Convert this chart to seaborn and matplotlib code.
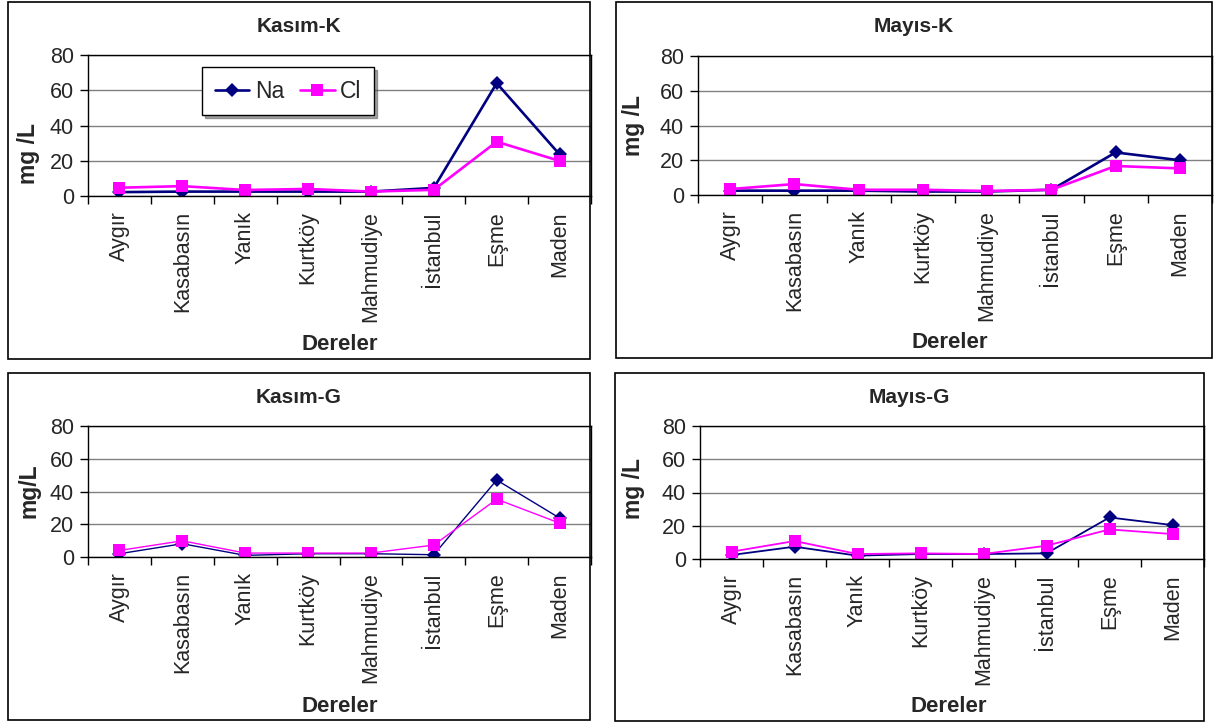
import numpy as np
import pandas as pd
import seaborn as sns
import matplotlib.pyplot as plt
from matplotlib.patches import Rectangle
from matplotlib.ticker import FixedLocator

sns.set_style("white")
plt.rcParams['font.family'] = ['Liberation Sans', 'DejaVu Sans']

# Veri
dereler = ["Aygır", "Kasabasın", "Yanık", "Kurtköy", "Mahmudiye", "İstanbul", "Eşme", "Maden"]

kasim_k_na = [2.2, 2.5, 2.5, 2.5, 2.5, 4.6, 64, 23.6]
kasim_k_cl = [4.7, 5.6, 3.4, 4.0, 2.5, 3.5, 30.8, 19.9]

mayis_k_na = [2.5, 2.5, 2.5, 2.0, 2.0, 3.0, 24.5, 20.0]
mayis_k_cl = [3.4, 6.3, 3.0, 3.0, 2.3, 3.0, 16.7, 15.3]

kasim_g_na = [2.0, 8.1, 1.0, 2.0, 2.0, 1.4, 47.0, 23.8]
kasim_g_cl = [4.0, 9.9, 2.4, 2.4, 2.4, 7.3, 35.3, 20.7]

mayis_g_na = [2.4, 7.4, 2.0, 3.0, 3.0, 3.4, 25.0, 20.4]
mayis_g_cl = [4.4, 10.8, 3.0, 3.4, 3.0, 8.0, 17.8, 15.0]

W, H = 1222, 722
fig = plt.figure(figsize=(W / 100, H / 100), dpi=100)
fig.patch.set_facecolor("white")


def px_rect(x0, y0, x1, y1):
    return [x0 / W, 1 - y1 / H, (x1 - x0) / W, (y1 - y0) / H]


def panel(box, plot, title, na, cl, ylabel, ylab_xy, xlab_xy, lw, legend=False):
    # cerceve
    bx = px_rect(*box)
    fig.add_artist(Rectangle((bx[0], bx[1]), bx[2], bx[3], transform=fig.transFigure,
                             fill=False, edgecolor="black", linewidth=1.2))
    fig.text(bx[0] + bx[2] / 2, 1 - (box[1] + 25) / H, title, ha="center", va="center",
             fontsize=15, fontweight="bold")

    ax = fig.add_axes(px_rect(*plot))
    df = pd.DataFrame({"Dere": dereler, "Na": na, "Cl": cl})
    df["x"] = np.arange(len(dereler))
    long = df.melt(id_vars=["Dere", "x"], value_vars=["Na", "Cl"], var_name="Iyon", value_name="Deger")

    sns.lineplot(data=long, x="x", y="Deger", hue="Iyon", style="Iyon", hue_order=["Na", "Cl"],
                 palette={"Na": "#000080", "Cl": "#FF00FF"}, markers={"Na": "D", "Cl": "s"},
                 dashes=False, linewidth=lw, markersize=9, markeredgewidth=0,
                 legend=legend, ax=ax)
    for line in ax.get_lines():
        if line.get_marker() == "D":
            line.set_markersize(7.5)

    ax.set_xlim(-0.5, len(dereler) - 0.5)
    ax.set_ylim(0, 80)
    ax.set_yticks([0, 20, 40, 60, 80])
    ax.set_xticks(np.arange(len(dereler)))
    ax.set_xticklabels(dereler, rotation=90)
    ax.xaxis.set_minor_locator(FixedLocator(np.arange(-0.5, len(dereler), 1.0)))
    ax.tick_params(axis="x", which="major", length=0, pad=11, labelsize=15.5)
    ax.tick_params(axis="x", which="minor", length=6, width=1, color="black", direction="out", bottom=True)
    ax.tick_params(axis="y", length=6, width=1, color="black", direction="out", left=True, labelsize=15.5, pad=4)
    ax.grid(axis="y", color="#808080", linewidth=1)
    ax.grid(axis="x", visible=False)
    for s in ax.spines.values():
        s.set_color("black")
        s.set_linewidth(1)
    ax.set_xlabel("Dereler", fontsize=16, fontweight="bold")
    ax.set_ylabel(ylabel, fontsize=16.5, fontweight="bold")
    ax.yaxis.set_label_coords(*ylab_xy)
    ax.xaxis.set_label_coords(*xlab_xy)

    if legend:
        handles, labels = ax.get_legend_handles_labels()
        ax.legend(handles, labels, ncol=2, loc="upper left", bbox_to_anchor=(0.227, 0.915),
                  fontsize=16.5, frameon=True, fancybox=False, shadow=True, edgecolor="black",
                  framealpha=1, borderaxespad=0, handlelength=1.5, columnspacing=0.7,
                  handletextpad=0.25, borderpad=0.55)
        ax.get_legend().get_frame().set_linewidth(1)
    return ax


panel((8, 2, 590, 359), (88, 55, 591, 196), "Kasım-K", kasim_k_na, kasim_k_cl,
      "mg /L", (-0.095, 0.3), (0.5, -0.98), 1.9, legend=True)
panel((616, 2, 1212, 358), (698, 56, 1212, 195), "Mayıs-K", mayis_k_na, mayis_k_cl,
      "mg /L", (-0.103, 0.5), (0.49, -0.985), 1.9)
panel((8, 373, 590, 720), (88, 426, 591, 557), "Kasım-G", kasim_g_na, kasim_g_cl,
      "mg/L", (-0.095, 0.51), (0.5, -1.06), 1.0)
panel((615, 373, 1204, 721), (700, 426, 1204, 559), "Mayıs-G", mayis_g_na, mayis_g_cl,
      "mg /L", (-0.109, 0.53), (0.494, -1.03), 1.3)

fig.savefig("out.png", dpi=100, facecolor="white")
